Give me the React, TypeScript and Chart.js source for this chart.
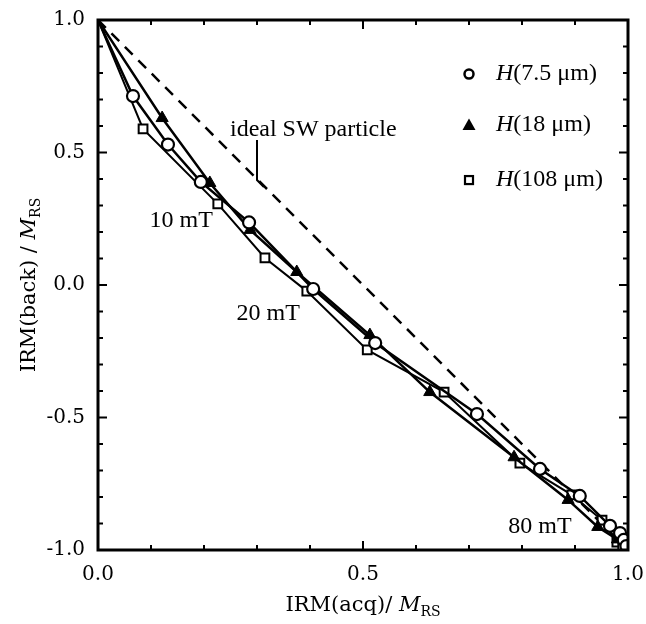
import React, { useEffect, useRef } from "react";
import { Chart, registerables } from "chart.js";
Chart.register(...registerables);

// ---- data ----
const circleX = [0, 0.066, 0.132, 0.194, 0.285, 0.406, 0.523, 0.715, 0.834, 0.909, 0.966, 0.985, 0.992, 0.997];
const circleY = [1, 0.713, 0.53, 0.389, 0.236, -0.015, -0.219, -0.487, -0.694, -0.796, -0.909, -0.936, -0.962, -0.985];
const triX = [0, 0.121, 0.211, 0.287, 0.375, 0.513, 0.626, 0.785, 0.887, 0.943, 0.98, 0.995];
const triY = [1, 0.63, 0.385, 0.208, 0.049, -0.189, -0.404, -0.65, -0.811, -0.913, -0.96, -0.99];
const sqX = [0, 0.085, 0.226, 0.315, 0.394, 0.508, 0.653, 0.796, 0.894, 0.951, 0.979, 0.99];
const sqY = [1, 0.589, 0.306, 0.102, -0.023, -0.245, -0.404, -0.672, -0.792, -0.887, -0.97, -0.99];
const idealX = [0, 1];
const idealY = [1, -1];
const xTickValues = [0, 0.5, 1];
const yTickValues = [-1, -0.5, 0, 0.5, 1];
const seriesNames = ["7.5 μm", "18 μm", "108 μm"];
const fieldLabels = ["10 mT", "20 mT", "80 mT"];
const fieldLabelX = [0.157, 0.321, 0.834];
const fieldLabelY = [0.243, -0.108, -0.913];
const idealLabel = "ideal SW particle";

const TEXT_FONT = '"Liberation Serif", "Times New Roman", serif';
const AXIS_FONT = '"DejaVu Serif", serif';

const zip = (xs: number[], ys: number[]) => xs.map((x, i) => ({ x, y: ys[i] }));

type Part = { t: string; it?: boolean; sub?: boolean };
function drawRich(ctx: CanvasRenderingContext2D, parts: Part[], x: number, y: number, size: number, family: string, align: "center" | "left") {
  const fontFor = (p: Part) => `${p.it ? "italic " : ""}${p.sub ? Math.round(size * 0.68) : size}px ${family}`;
  let total = 0;
  for (const p of parts) { ctx.font = fontFor(p); total += ctx.measureText(p.t).width; }
  let cx = align === "center" ? x - total / 2 : x;
  ctx.textAlign = "left";
  ctx.textBaseline = "middle";
  ctx.fillStyle = "#000";
  for (const p of parts) {
    ctx.font = fontFor(p);
    ctx.fillText(p.t, cx, p.sub ? y + size * 0.3 : y);
    cx += ctx.measureText(p.t).width;
  }
}

const framePlugin = {
  id: "frameTicks",
  afterDatasetsDraw(chart: any) {
    const ctx: CanvasRenderingContext2D = chart.ctx;
    const { left, right, top, bottom } = chart.chartArea;
    const xs = chart.scales.x, ys = chart.scales.y;
    ctx.save();
    ctx.strokeStyle = "#000";
    ctx.lineWidth = 2;
    for (let i = 0; i <= 20; i++) {
      const v = -1 + i * 0.1;
      const len = i % 5 === 0 ? 9 : 5;
      const py = ys.getPixelForValue(v);
      ctx.beginPath();
      ctx.moveTo(left, py); ctx.lineTo(left + len, py);
      ctx.moveTo(right, py); ctx.lineTo(right - len, py);
      ctx.stroke();
    }
    for (let i = 0; i <= 10; i++) {
      const v = i * 0.1;
      const len = i % 5 === 0 ? 9 : 5;
      const px = xs.getPixelForValue(v);
      ctx.beginPath();
      ctx.moveTo(px, bottom); ctx.lineTo(px, bottom - len);
      ctx.moveTo(px, top); ctx.lineTo(px, top + len);
      ctx.stroke();
    }
    ctx.lineWidth = 3;
    ctx.strokeRect(left, top, right - left, bottom - top);

    // tick labels
    ctx.fillStyle = "#000";
    ctx.font = `20px ${AXIS_FONT}`;
    ctx.textAlign = "right";
    ctx.textBaseline = "middle";
    yTickValues.forEach((v) => ctx.fillText(v.toFixed(1), left - 13, ys.getPixelForValue(v)));
    ctx.textAlign = "center";
    xTickValues.forEach((v) => ctx.fillText(v.toFixed(1), xs.getPixelForValue(v), bottom + 25));

    // annotations
    ctx.font = `24px ${TEXT_FONT}`;
    ctx.textAlign = "center";
    ctx.textBaseline = "middle";
    fieldLabels.forEach((t, i) => {
      ctx.fillText(t, xs.getPixelForValue(fieldLabelX[i]), ys.getPixelForValue(fieldLabelY[i]));
    });
    ctx.textAlign = "left";
    ctx.textBaseline = "alphabetic";
    ctx.fillText(idealLabel, xs.getPixelForValue(0.249), ys.getPixelForValue(0.562));
    ctx.lineWidth = 2;
    ctx.beginPath();
    ctx.moveTo(xs.getPixelForValue(0.3), ys.getPixelForValue(0.547));
    ctx.lineTo(xs.getPixelForValue(0.3), ys.getPixelForValue(0.396));
    ctx.lineTo(xs.getPixelForValue(0.313), ys.getPixelForValue(0.37));
    ctx.stroke();

    // legend
    const lx = xs.getPixelForValue(0.7);
    const tx = xs.getPixelForValue(0.751);
    const lys = [0.796, 0.604, 0.396].map((v) => ys.getPixelForValue(v));
    ctx.lineWidth = 2.5;
    ctx.fillStyle = "#fff";
    ctx.beginPath(); ctx.arc(lx, lys[0], 4.5, 0, Math.PI * 2); ctx.fill(); ctx.stroke();
    ctx.fillStyle = "#000";
    ctx.beginPath();
    ctx.moveTo(lx, lys[1] - 6.5); ctx.lineTo(lx + 6.5, lys[1] + 5); ctx.lineTo(lx - 6.5, lys[1] + 5); ctx.closePath(); ctx.fill();
    ctx.lineWidth = 2.2;
    ctx.fillStyle = "#fff";
    ctx.fillRect(lx - 4, lys[2] - 4, 8, 8); ctx.strokeRect(lx - 4, lys[2] - 4, 8, 8);
    seriesNames.forEach((n, i) => {
      drawRich(ctx, [{ t: "H", it: true }, { t: `(${n})` }], tx, lys[i], 24, TEXT_FONT, "left");
    });

    // axis titles
    const cx = (left + right) / 2;
    drawRich(ctx, [{ t: "IRM(acq)/ " }, { t: "M", it: true }, { t: "RS", sub: true }], cx, bottom + 56, 21, AXIS_FONT, "center");
    ctx.save();
    ctx.translate(30, (top + bottom) / 2);
    ctx.rotate(-Math.PI / 2);
    drawRich(ctx, [{ t: "IRM(back) / " }, { t: "M", it: true }, { t: "RS", sub: true }], 0, 0, 21, AXIS_FONT, "center");
    ctx.restore();
    ctx.restore();
  },
};

export default function App() {
  const ref = useRef<HTMLCanvasElement | null>(null);
  useEffect(() => {
    if (!ref.current) return;
    const chart = new Chart(ref.current, {
      type: "scatter",
      data: {
        datasets: [
          {
            label: "H(7.5 μm)",
            data: zip(circleX, circleY),
            showLine: true,
            borderColor: "#000",
            backgroundColor: "#fff",
            borderWidth: 2.5,
            pointStyle: "circle",
            pointRadius: (c: any) => (c.dataIndex === 0 ? 0 : 6),
            pointBorderWidth: 2.2,
            pointBackgroundColor: "#fff",
            pointBorderColor: "#000",
          },
          {
            label: "H(18 μm)",
            data: zip(triX, triY),
            showLine: true,
            borderColor: "#000",
            backgroundColor: "#000",
            borderWidth: 2.5,
            pointStyle: "triangle",
            pointRadius: (c: any) => (c.dataIndex === 0 ? 0 : 7),
            pointBorderWidth: 1,
            pointBackgroundColor: "#000",
            pointBorderColor: "#000",
          },
          {
            label: "H(108 μm)",
            data: zip(sqX, sqY),
            showLine: true,
            borderColor: "#000",
            backgroundColor: "#fff",
            borderWidth: 2,
            pointStyle: "rect",
            pointRadius: (c: any) => (c.dataIndex === 0 ? 0 : 6.2),
            pointBorderWidth: 2,
            pointBackgroundColor: "#fff",
            pointBorderColor: "#000",
          },
          {
            label: "ideal",
            data: zip(idealX, idealY),
            showLine: true,
            borderColor: "#000",
            borderWidth: 2.5,
            borderDash: [11, 8],
            pointRadius: 0,
          },
        ],
      },
      options: {
        animation: false,
        responsive: false,
        maintainAspectRatio: false,
        layout: { padding: { top: 20, right: 18, left: 0, bottom: 0 } },
        plugins: { legend: { display: false }, tooltip: { enabled: false } },
        scales: {
          x: {
            type: "linear",
            min: 0,
            max: 1,
            grid: { display: false, drawTicks: false },
            border: { display: false },
            ticks: { display: false, stepSize: 0.5 },
            afterFit: (s: any) => { s.height = 74; s.paddingLeft = 0; s.paddingRight = 0; },
          },
          y: {
            type: "linear",
            min: -1,
            max: 1,
            grid: { display: false, drawTicks: false },
            border: { display: false },
            ticks: { display: false, stepSize: 0.5 },
            afterFit: (s: any) => { s.width = 98; s.paddingTop = 0; s.paddingBottom = 0; },
          },
        },
      },
      plugins: [framePlugin],
    } as any);
    return () => chart.destroy();
  }, []);
  return (
    <div style={{ position: "absolute", left: 0, top: 0, width: 646, height: 624, background: "#fff" }}>
      <canvas ref={ref} width={646} height={624} style={{ width: 646, height: 624 }} />
    </div>
  );
}
